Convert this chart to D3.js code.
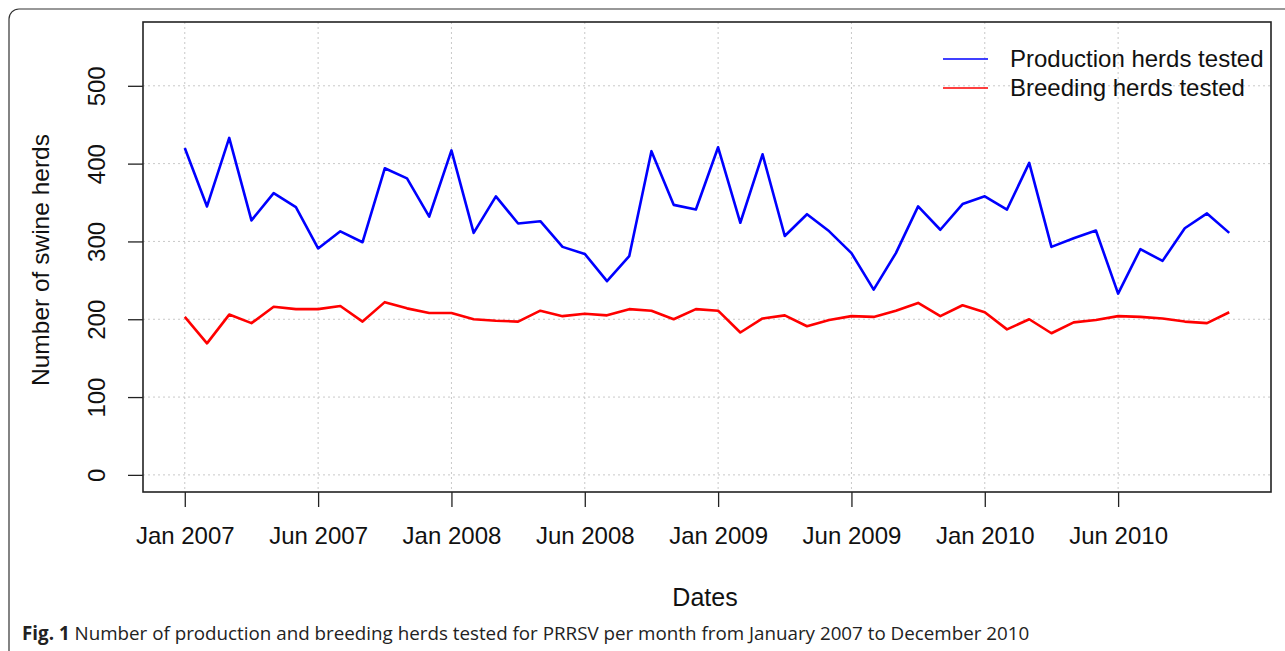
<!DOCTYPE html>
<html>
<head>
<meta charset="utf-8">
<script src="https://cdn.jsdelivr.net/npm/d3@7"></script>
<style>
  body { margin: 0; background: #fff; }
  svg { display: block; }
</style>
</head>
<body>
<script>
// monthly counts, Jan 2007 .. Dec 2010 (48 months)
var production = [420, 345, 433, 327, 362, 344, 291, 313, 299, 394, 381, 332,
                  417, 311, 358, 323, 326, 293, 284, 249, 281, 416, 347, 341,
                  421, 324, 412, 307, 335, 313, 285, 238, 285, 345, 315, 348,
                  358, 341, 401, 293, 304, 314, 233, 290, 275, 317, 336, 311];
var breeding = [203, 169, 206, 195, 216, 213, 213, 217, 197, 222, 214, 208,
                208, 200, 198, 197, 211, 204, 207, 205, 213, 211, 200, 213,
                211, 183, 201, 205, 191, 199, 204, 203, 211, 221, 204, 218,
                209, 187, 200, 182, 196, 199, 204, 203, 201, 197, 195, 209];
var tickIdx = [0, 6, 12, 18, 24, 30, 36, 42];
var tickLabels = ["Jan 2007", "Jun 2007", "Jan 2008", "Jun 2008", "Jan 2009", "Jun 2009", "Jan 2010", "Jun 2010"];
var yTicks = [0, 100, 200, 300, 400, 500];
var seriesNames = ["Production herds tested", "Breeding herds tested"];
var seriesColors = ["#0000ff", "#ff0000"];

var W = 1285, H = 651;
var box = { left: 143, right: 1271, top: 22, bottom: 492 };

var svg = d3.select("body").append("svg")
    .attr("width", W)
    .attr("height", H);

// outer figure frame
svg.append("rect")
    .attr("x", 9).attr("y", 9)
    .attr("width", 1290).attr("height", 670)
    .attr("rx", 10)
    .attr("fill", "none")
    .attr("stroke", "#333")
    .attr("stroke-width", 1.2);

var x = d3.scaleLinear().domain([-1.88, 48.88]).range([box.left, box.right]);
var y = d3.scaleLinear().domain([-22, 582]).range([box.bottom, box.top]);

var font = "'Liberation Sans', Arial, sans-serif";

// grid
svg.append("g").selectAll("line.v").data(tickIdx).enter().append("line")
    .attr("x1", function(d) { return x(d); }).attr("x2", function(d) { return x(d); })
    .attr("y1", box.top).attr("y2", box.bottom)
    .attr("stroke", "#c8c8c8").attr("stroke-dasharray", "2,3");
svg.append("g").selectAll("line.h").data(yTicks).enter().append("line")
    .attr("x1", box.left).attr("x2", box.right)
    .attr("y1", function(d) { return y(d); }).attr("y2", function(d) { return y(d); })
    .attr("stroke", "#c8c8c8").attr("stroke-dasharray", "2,3");

// lines
var line = d3.line()
    .x(function(d, i) { return x(i); })
    .y(function(d) { return y(d); });

[production, breeding].forEach(function(s, k) {
  svg.append("path")
      .datum(s)
      .attr("d", line)
      .attr("fill", "none")
      .attr("stroke", seriesColors[k])
      .attr("stroke-width", 2.6)
      .attr("stroke-linejoin", "round");
});

// box
svg.append("rect")
    .attr("x", box.left).attr("y", box.top)
    .attr("width", box.right - box.left).attr("height", box.bottom - box.top)
    .attr("fill", "none").attr("stroke", "#222").attr("stroke-width", 1.6);

// x axis
var xAxis = d3.axisBottom(x)
    .tickValues(tickIdx)
    .tickFormat(function(d, i) { return tickLabels[i]; })
    .tickSize(15)
    .tickPadding(20);
var gx = svg.append("g")
    .attr("transform", "translate(0," + box.bottom + ")")
    .call(xAxis);
gx.select(".domain").remove();
gx.selectAll("line").attr("stroke", "#222").attr("stroke-width", 1.3);
gx.selectAll("text").attr("font-family", font).attr("font-size", 24).attr("fill", "#111");

// y axis
var yAxis = d3.axisLeft(y).tickValues(yTicks).tickSize(15).tickPadding(0);
var gy = svg.append("g")
    .attr("transform", "translate(" + box.left + ",0)")
    .call(yAxis);
gy.select(".domain").remove();
gy.selectAll("line").attr("stroke", "#222").attr("stroke-width", 1.3);
gy.selectAll("text")
    .attr("font-family", font).attr("font-size", 24).attr("fill", "#111")
    .attr("x", null).attr("dy", null)
    .attr("text-anchor", "middle")
    .attr("transform", "translate(-38,0) rotate(-90)");

// axis titles
svg.append("text")
    .attr("x", (box.left + box.right) / 2 - 2)
    .attr("y", 606)
    .attr("text-anchor", "middle")
    .attr("font-family", font).attr("font-size", 25).attr("fill", "#111")
    .text("Dates");
svg.append("text")
    .attr("transform", "translate(49,260) rotate(-90)")
    .attr("text-anchor", "middle")
    .attr("font-family", font).attr("font-size", 24.5).attr("fill", "#111")
    .text("Number of swine herds");

// legend
var legend = svg.append("g").selectAll("g").data(seriesNames).enter().append("g")
    .attr("transform", function(d, i) { return "translate(943," + (59 + i * 29) + ")"; });
legend.append("line")
    .attr("x1", 0).attr("x2", 45)
    .attr("stroke", function(d, i) { return seriesColors[i]; })
    .attr("stroke-width", 1.3);
legend.append("text")
    .attr("x", 67).attr("dy", "0.35em")
    .attr("font-family", font).attr("font-size", 24).attr("fill", "#111")
    .text(function(d) { return d; });

// caption
var cap = svg.append("text")
    .attr("x", 22).attr("y", 640)
    .attr("font-family", "'Open Sans', 'Noto Sans', sans-serif")
    .attr("font-size", 18.8).attr("fill", "#222");
cap.append("tspan").attr("font-weight", "bold").text("Fig. 1");
cap.append("tspan").text(" Number of production and breeding herds tested for PRRSV per month from January 2007 to December 2010");
</script>
</body>
</html>
